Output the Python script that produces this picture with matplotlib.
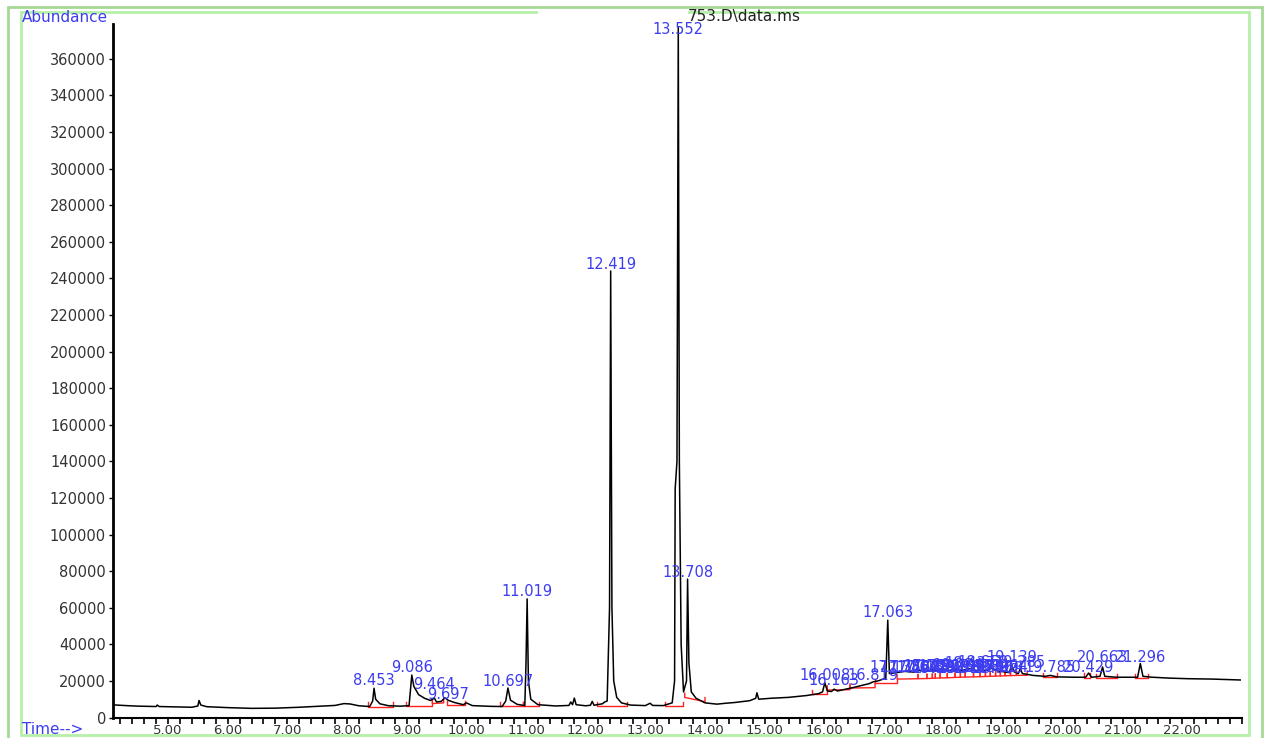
import numpy as np
import matplotlib.pyplot as plt
from matplotlib.patches import Rectangle
from matplotlib.ticker import MultipleLocator

# TIC trace (min, abundance)
trace_time = [4.08, 4.30, 4.50, 4.80, 4.82, 4.85, 5.10, 5.40, 5.50, 5.52, 5.55, 5.65,
              6.00, 6.40, 6.80, 7.20, 7.50, 7.80, 7.95, 8.05, 8.20, 8.38, 8.43, 8.453,
              8.48, 8.55, 8.70, 8.90, 9.04, 9.086, 9.12, 9.20, 9.30, 9.40, 9.464, 9.50,
              9.58, 9.64, 9.697, 9.80, 9.95, 10.00, 10.10, 10.40, 10.60, 10.66, 10.697,
              10.74, 10.85, 10.98, 11.00, 11.019, 11.04, 11.08, 11.20, 11.50, 11.72,
              11.75, 11.78, 11.81, 11.84, 12.00, 12.08, 12.11, 12.14, 12.28, 12.32,
              12.36, 12.40, 12.419, 12.44, 12.47, 12.52, 12.60, 12.75, 13.00, 13.08,
              13.12, 13.30, 13.45, 13.49, 13.50, 13.53, 13.552, 13.57, 13.60, 13.64,
              13.69, 13.708, 13.73, 13.77, 13.85, 14.00, 14.20, 14.35, 14.50, 14.75,
              14.85, 14.87, 14.90, 15.10, 15.40, 15.70, 15.90, 15.97, 16.008, 16.05,
              16.12, 16.163, 16.22, 16.50, 16.75, 16.819, 16.90, 17.03, 17.063, 17.09,
              17.20, 17.35, 17.50, 17.60, 17.70, 17.80, 17.90, 18.00, 18.10, 18.20,
              18.30, 18.45, 18.55, 18.70, 18.80, 18.90, 19.00, 19.10, 19.139, 19.18,
              19.25, 19.285, 19.32, 19.50, 19.70, 19.785, 19.90, 20.20, 20.38, 20.429,
              20.48, 20.62, 20.663, 20.70, 20.90, 21.25, 21.296, 21.34, 21.50, 21.80,
              22.10, 22.50, 22.97]
trace_abund = [6900, 6500, 6200, 6000, 6800, 6000, 5800, 5600, 6300, 9300, 6800, 5900,
               5400, 5000, 5100, 5600, 6100, 6600, 7600, 7400, 6400, 6000, 9000, 16000,
               10000, 7500, 6400, 6200, 6500, 23200, 17000, 12500, 10500, 9300, 10600, 8500,
               8800, 10800, 9400, 8200, 7000, 8000, 6500, 6100, 6000, 9000, 16100,
               9500, 7200, 6500, 30000, 64800, 20000, 10000, 7000, 6300, 6600,
               8500, 7000, 10600, 7000, 6400, 6700, 8800, 6700, 7500, 8500,
               9000, 60000, 244000, 60000, 20000, 11000, 8000, 6800, 6500, 7800,
               6600, 6500, 8000, 20000, 125000, 140000, 377000, 140000, 40000, 14000,
               20000, 75600, 30000, 14000, 10500, 8000, 7300, 7800, 8200, 9200,
               10500, 13500, 10000, 10500, 11000, 12000, 13000, 14000, 19000, 14500,
               14200, 15500, 14500, 16500, 18500, 19500, 20000, 21500, 53200, 24000,
               24500, 25200, 24800, 25800, 25200, 26000, 25500, 26500, 25700, 26500,
               25800, 26800, 25500, 25800, 27000, 25500, 25000, 24500, 28700, 25000,
               24000, 26500, 24000, 23000, 22500, 23000, 22200, 22000, 22000, 24300,
               22000, 22500, 27600, 22500, 22000, 22000, 29500, 22500, 22000, 21500,
               21200, 21000, 20500]

# peak labels and the abundance each label sits on
peak_labels = ['8.453', '9.086', '9.464', '9.697', '10.697', '11.019', '12.419', '13.552',
               '13.708', '16.008', '16.163', '16.819', '17.063', '17.178', '17.356', '17.497',
               '17.642', '17.753', '17.837', '17.902', '17.998', '18.125', '18.234', '18.318',
               '18.437', '18.553', '18.659', '18.740', '18.826', '18.909', '18.994', '19.139',
               '19.285', '19.785', '20.429', '20.663', '21.296']
label_abund = [17700, 24800, 15600, 10100, 17200, 66300, 244900, 373700,
               76700, 20500, 17700, 20500, 54900, 24800, 24800, 24300,
               24800, 25300, 24800, 24300, 25300, 24800, 25800, 24300,
               27000, 25300, 27500, 24800, 25300, 24300, 24800, 30300,
               27600, 24800, 24800, 30300, 30300]

# red integration baselines (start, end, abundance at start, abundance at end)
base_t0 = [8.35, 8.99, 9.43, 9.68, 10.57, 10.95, 12.19, 13.33, 13.66, 15.80, 16.05,
           16.43, 16.85, 17.22, 17.57, 17.72, 17.81, 17.86, 17.94, 18.06, 18.19, 18.28,
           18.36, 18.50, 18.61, 18.70, 18.78, 18.87, 18.95, 19.03, 19.12, 19.22, 19.67,
           20.36, 20.55, 21.20]
base_t1 = [8.77, 9.43, 9.62, 9.98, 10.95, 11.22, 12.69, 13.63, 14.00, 16.05, 16.43,
           16.85, 17.22, 17.57, 17.72, 17.81, 17.86, 17.94, 18.06, 18.19, 18.28, 18.36,
           18.50, 18.61, 18.70, 18.78, 18.87, 18.95, 19.03, 19.12, 19.22, 19.40, 19.90,
           20.46, 20.90, 21.42]
base_a0 = [5900, 6400, 7600, 6800, 6400, 6400, 6300, 6300, 11000, 12800, 15000,
           16100, 18800, 21000, 21200, 21300, 21400, 21500, 21600, 21700, 21900, 22000,
           22100, 22200, 22300, 22400, 22500, 22600, 22700, 22800, 22900, 23000, 22000,
           21800, 21600, 21600]
base_a1 = [5900, 6400, 8000, 6800, 6400, 6400, 6300, 6300, 8600, 12800, 15200,
           16300, 18800, 21200, 21300, 21400, 21500, 21600, 21700, 21900, 22000, 22100,
           22200, 22300, 22400, 22500, 22600, 22700, 22800, 22900, 23000, 23100, 22000,
           21800, 21600, 21600]

W, H = 1264, 738
BLUE = '#3c3cf0'
plt.rcParams['font.family'] = ['DejaVu Sans']


def fx(x):
    return x / W


def fy(y):
    return 1 - y / H


def draw_frame(fig):
    # double green border of the report page
    fig.add_artist(Rectangle((fx(8), fy(745)), fx(1262 - 8), (745 - 7) / H, transform=fig.transFigure,
                             fill=False, edgecolor='#a6d896', lw=2))
    fig.add_artist(Rectangle((fx(21), fy(735)), fx(1249 - 21), (735 - 12) / H, transform=fig.transFigure,
                             fill=False, edgecolor='#b4f0a8', lw=2))
    fig.add_artist(Rectangle((fx(538), fy(15.5)), fx(688 - 538), 6 / H, transform=fig.transFigure,
                             facecolor='white', edgecolor='none'))


def plot_tic():
    fig = plt.figure(figsize=(W / 100, H / 100), dpi=100)
    draw_frame(fig)
    ax = fig.add_axes([fx(113), fy(717.5), fx(1242 - 113), (717.5 - 24) / H])

    ax.plot(trace_time, trace_abund, color='black', lw=1.1, zorder=3)

    tick = 2300
    for t0, t1, a0, a1 in zip(base_t0, base_t1, base_a0, base_a1):
        ax.plot([t0, t0, t1, t1], [a0 + tick, a0, a1, a1 + tick], color='#ff2020', lw=1, zorder=2)

    for lab, a in zip(peak_labels, label_abund):
        ax.annotate(lab, (float(lab), a), xytext=(0, 0), textcoords='offset points',
                    ha='center', va='baseline', color=BLUE, fontsize=10.5, zorder=4)

    ax.set_xlim(4.078, 23.0)
    ax.set_ylim(0, 379000)
    ax.set_xticks(np.arange(5, 23, 1))
    ax.set_xticklabels(['%.2f' % v for v in np.arange(5, 23, 1)])
    ax.xaxis.set_minor_locator(MultipleLocator(0.2))
    ax.set_yticks(np.arange(0, 380000, 20000))
    ax.set_yticklabels([str(v) for v in range(0, 380000, 20000)])
    ax.tick_params(axis='x', which='both', direction='out', length=4, width=1.2, pad=1,
                   labelsize=9.5, labelcolor='#333333')
    ax.tick_params(axis='y', direction='out', length=3, width=1, pad=2,
                   labelsize=10.5, labelcolor='#333333')
    for side in ['top', 'right']:
        ax.spines[side].set_visible(False)
    ax.spines['left'].set_linewidth(2)
    ax.spines['bottom'].set_linewidth(1.5)
    ax.patch.set_alpha(0)

    fig.text(fx(22), fy(18), 'Abundance', color=BLUE, fontsize=11, ha='left', va='center')
    fig.text(fx(22), fy(729), 'Time-->', color=BLUE, fontsize=11, ha='left', va='center')
    fig.text(fx(688), fy(17), '753.D\\data.ms', color='#222222', fontsize=11, ha='left', va='center')

    fig.savefig('out.png', dpi=100)


if __name__ == '__main__':
    plot_tic()
